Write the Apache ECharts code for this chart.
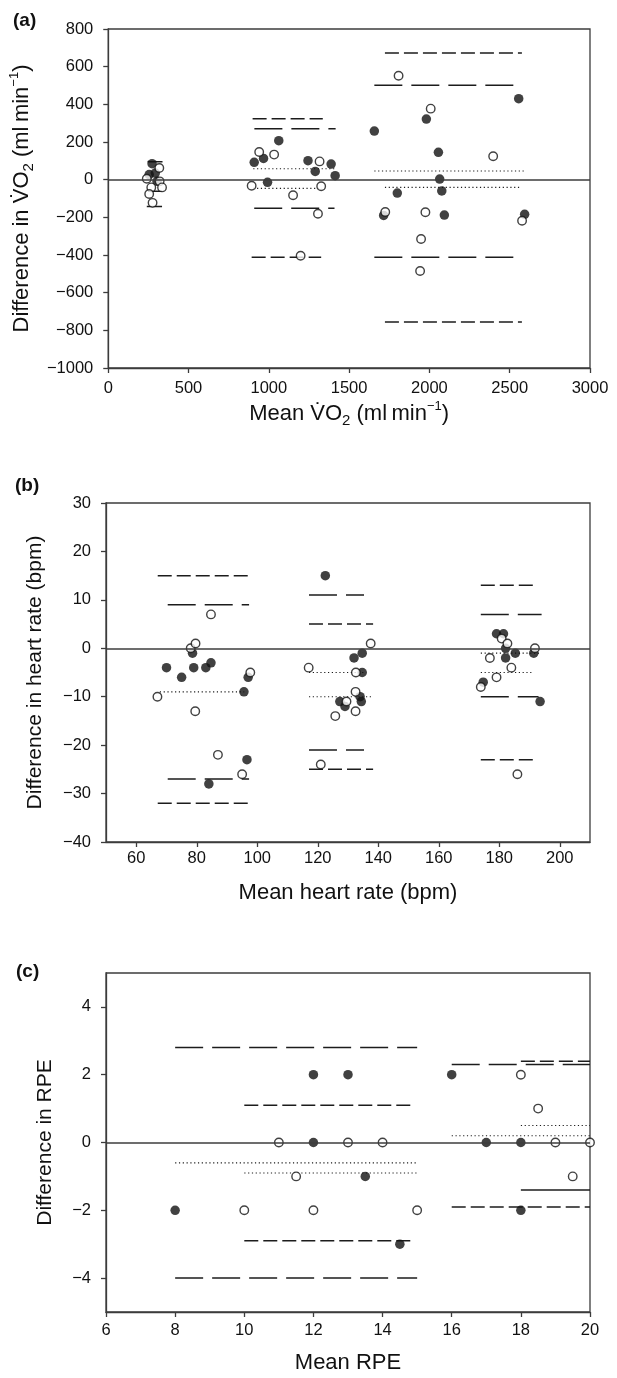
<!DOCTYPE html>
<html>
<head>
<meta charset="utf-8">
<script src="https://cdn.jsdelivr.net/npm/echarts@6.0.0/dist/echarts.min.js"></script>
<style>
  html, body { margin: 0; padding: 0; background: #fff; }
  #main { width: 617px; height: 1378px; }
</style>
</head>
<body>
<div id="main"></div>
<script>
// ---- panel (a): VO2 (ml/min) ----
var aTicksX = [0, 500, 1000, 1500, 2000, 2500, 3000];
var aFilled = [[273, 85], [255, 27], [293, 35], [304, -9],
  [909, 92], [967, 113], [1062, 207], [992, -14], [1244, 101], [1289, 44], [1388, 83], [1413, 21],
  [1657, 258], [1715, -190], [1800, -71], [1981, 322], [2056, 145], [2064, 3], [2077, -60], [2093, -188], [2556, 430], [2593, -184]];
var aOpen = [[318, 62], [240, 5], [320, -9], [268, -41], [335, -41], [255, -76], [276, -123],
  [940, 147], [1033, 133], [893, -32], [1151, -83], [1316, 97], [1326, -35], [1306, -181], [1198, -404],
  [1808, 552], [2008, 377], [2397, 124], [1725, -172], [1975, -173], [2577, -218], [1948, -315], [1942, -485]];
// limit / mean lines: [xStart, xEnd, y]
var aLong = [[245, 338, 95], [240, 335, -142], [910, 1416, 271], [909, 1409, -152], [1657, 2566, 501], [1657, 2566, -412]];
var aMedium = [[248, 335, -62], [899, 1336, 324], [893, 1326, -412], [1723, 2576, 673], [1723, 2576, -756]];
var aDotted = [[903, 1419, 58], [903, 1330, -46], [1657, 2597, 46], [1723, 2570, -41]];

// ---- panel (b): heart rate (bpm) ----
var bTicksX = [60, 80, 100, 120, 140, 160, 180, 200];
var bFilled = [[70, -4], [75, -6], [78.6, -1], [79, -4], [83, -4], [84.7, -3], [84, -28], [95.6, -9], [96.6, -23], [97, -6],
  [122.5, 15], [134.7, -1], [132, -2], [134.7, -5], [134, -10], [134.4, -11], [127.3, -11], [129, -12],
  [179.1, 3], [181.4, 3], [182.1, 0], [182.1, -2], [185.3, -1], [174.7, -7], [191.4, -1], [193.5, -11]];
var bOpen = [[67, -10], [78, 0], [79.6, 1], [79.5, -13], [84.7, 7], [87, -22], [95, -26], [97.7, -5],
  [117, -4], [137.5, 1], [132.6, -5], [132.5, -9], [129.5, -11], [125.8, -14], [132.5, -13], [121, -24],
  [180.8, 2], [182.7, 1], [176.9, -2], [184, -4], [179.1, -6], [173.9, -8], [191.8, 0], [186, -26]];
var bLong = [[70.4, 97.3, 9], [70.4, 97.3, -27], [117.1, 135.3, 11], [117.1, 135.3, -21], [173.9, 194, 7], [173.9, 193, -10]];
var bMedium = [[67.1, 97.7, 15], [67.1, 97.7, -32], [117.1, 138.3, 5], [117.1, 138.3, -25], [173.9, 192.1, 13], [173.9, 192.1, -23]];
var bDotted = [[67.8, 95.7, -9], [117.1, 135.3, -5], [117.1, 137.9, -10], [173.9, 194, -1], [173.9, 191.2, -5]];

// ---- panel (c): RPE ----
var cTicksY = [-4, -2, 0, 2, 4];
var cFilled = [[8, -2], [12, 2], [12, 0], [13, 2], [13.5, -1], [14.5, -3], [16, 2], [17, 0], [18, 0], [18, -2]];
var cOpen = [[10, -2], [11, 0], [11.5, -1], [12, -2], [13, 0], [14, 0], [15, -2], [18, 2], [18.5, 1], [19, 0], [19.5, -1], [20, 0]];
var cLong = [[8, 15, 2.8], [8, 15, -4], [16, 20, 2.3]];
var cMedium = [[10, 14.9, 1.1], [10, 14.9, -2.9], [18, 20, 2.4], [16, 20, -1.9]];
var cDotted = [[8, 15, -0.6], [10, 15, -0.9], [18, 20, 0.5], [16, 20, 0.2]];
var cSolid = [[18, 20, -1.4]];

var FONT = "'Liberation Sans', Arial, Helvetica, sans-serif";
var INK = '#111';
var AXIS = '#3c3c3c';

function minus(v) { return String(v).replace('-', '\u2212'); }

var rich = {
  n: { fontSize: 22, fontFamily: FONT, color: INK, lineHeight: 28 },
  sub: { fontSize: 15, fontFamily: FONT, color: INK, lineHeight: 15, verticalAlign: 'bottom' },
  sup: { fontSize: 13, fontFamily: FONT, color: INK, lineHeight: 13, verticalAlign: 'top' }
};

function axisBase(extra) {
  var o = {
    type: 'value',
    axisLine: { show: true, onZero: false, lineStyle: { color: AXIS, width: 1.3 } },
    axisTick: { show: true, inside: false, length: 5, lineStyle: { color: AXIS, width: 1.3 } },
    axisLabel: { color: INK, fontSize: 16.5, fontFamily: FONT, formatter: minus },
    splitLine: { show: false },
    nameLocation: 'middle',
    nameTextStyle: { color: INK, fontSize: 22, fontFamily: FONT }
  };
  for (var k in extra) {
    if (typeof extra[k] === 'object' && o[k] && !Array.isArray(extra[k])) {
      for (var j in extra[k]) o[k][j] = extra[k][j];
    } else {
      o[k] = extra[k];
    }
  }
  return o;
}

function segs(list, gi, type, width) {
  return list.map(function (s) {
    return {
      type: 'line', xAxisIndex: gi, yAxisIndex: gi, silent: true,
      symbol: 'none', data: [[s[0], s[2]], [s[1], s[2]]],
      lineStyle: { color: '#1c1c1c', width: width, type: type }, z: 2
    };
  });
}

function dots(data, gi, open) {
  return {
    type: 'scatter', xAxisIndex: gi, yAxisIndex: gi, data: data,
    symbol: 'circle', symbolSize: open ? 8.5 : 9.5, silent: true,
    itemStyle: open ? { color: '#fff', borderColor: '#111', borderWidth: 1.4 } : { color: '#111' },
    z: open ? 4 : 3
  };
}

function zeroLine(gi) {
  return {
    type: 'line', xAxisIndex: gi, yAxisIndex: gi, data: [], silent: true,
    markLine: {
      silent: true, symbol: 'none', animation: false, label: { show: false },
      lineStyle: { color: AXIS, width: 1.5, type: 'solid' },
      data: [{ yAxis: 0 }]
    }
  };
}

var LONG = [28, 9], MED = [14, 5], DOT = [1.2, 2.6];

var series = [];
[[aLong, aMedium, aDotted, [], aFilled, aOpen],
 [bLong, bMedium, bDotted, [], bFilled, bOpen],
 [cLong, cMedium, cDotted, cSolid, cFilled, cOpen]].forEach(function (p, gi) {
  series.push(zeroLine(gi));
  series = series.concat(segs(p[0], gi, LONG, 1.5), segs(p[1], gi, MED, 1.5), segs(p[2], gi, DOT, 1.1), segs(p[3], gi, 'solid', 1.5));
  series.push(dots(p[4], gi, false));
  series.push(dots(p[5], gi, true));
});

var gridBase = { left: 106, right: 27, height: 339, show: true, borderColor: AXIS, borderWidth: 1.3, containLabel: false };
function grid(top) { var g = {}; for (var k in gridBase) g[k] = gridBase[k]; g.top = top; return g; }

var panelTitle = function (txt, left, top) {
  return { text: txt, left: left, top: top, padding: 0,
    textStyle: { fontSize: 19, fontWeight: 'bold', fontFamily: FONT, color: INK } };
};

var option = {
  animation: false,
  backgroundColor: '#fff',
  title: [panelTitle('(a)', 13, 11), panelTitle('(b)', 15, 476), panelTitle('(c)', 16, 962)],
  grid: [grid(29), grid(503), grid(973)],
  xAxis: [
    axisBase({ gridIndex: 0, min: 0, max: 3000, interval: 500, axisLabel: { margin: 12 },
      name: '{n|Mean V\u0307O}{sub|2}{n| (ml\u2009min}{sup|\u22121}{n|)}', nameGap: 32,
      nameTextStyle: { rich: rich } }),
    axisBase({ gridIndex: 1, min: 50, max: 210, axisLabel: { margin: 8, customValues: bTicksX },
      axisTick: { customValues: bTicksX }, name: 'Mean heart rate (bpm)', nameGap: 40 }),
    axisBase({ gridIndex: 2, min: 6, max: 20, interval: 2, axisLabel: { margin: 10 },
      name: 'Mean RPE', nameGap: 40 })
  ],
  yAxis: [
    axisBase({ gridIndex: 0, min: -1000, max: 800, interval: 200, axisLabel: { margin: 15 },
      name: '{n|Difference in V\u0307O}{sub|2}{n| (ml\u2009min}{sup|\u22121}{n|)}', nameGap: 58,
      nameTextStyle: { rich: rich } }),
    axisBase({ gridIndex: 1, min: -40, max: 30, interval: 10, axisLabel: { margin: 15 },
      name: 'Difference in heart rate (bpm)', nameGap: 60, nameTextStyle: { fontSize: 21 } }),
    axisBase({ gridIndex: 2, min: -5, max: 5, axisLabel: { margin: 15, customValues: cTicksY },
      axisTick: { customValues: cTicksY }, name: 'Difference in RPE', nameGap: 50, nameTextStyle: { fontSize: 21 } })
  ],
  series: series
};

var chart = echarts.init(document.getElementById('main'), null, { renderer: 'canvas' });
chart.setOption(option);
</script>
</body>
</html>
